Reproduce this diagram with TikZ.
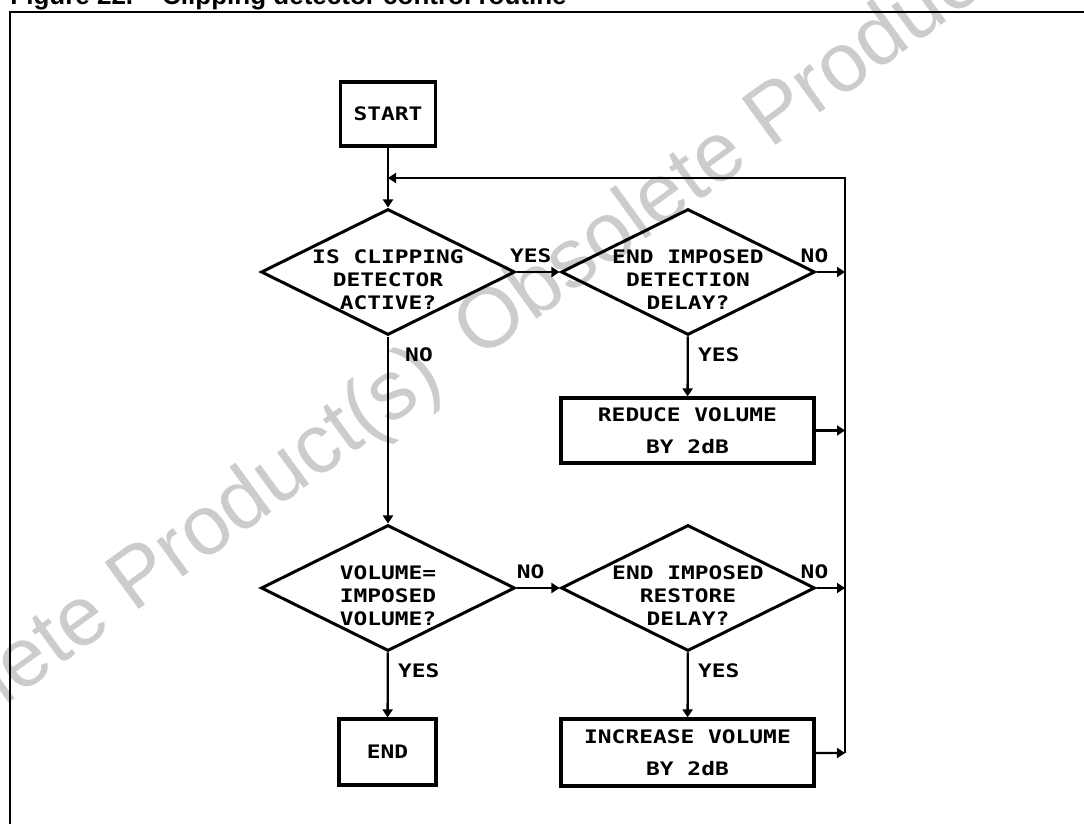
\documentclass[tikz,border=0pt]{standalone}
\usepackage{fontspec}
\setmainfont{Liberation Sans}
\newfontfamily\plotfont[FakeStretch=1.23]{DejaVu Sans Mono}
\usepackage{tikz}
\usetikzlibrary{shapes.geometric, arrows.meta, positioning}
\definecolor{wmgray}{gray}{0.80}

\tikzset{
	flowbox/.style={draw, line width=1.6pt, inner sep=0pt, align=center,
		font=\plotfont\bfseries\fontsize{9.3}{16}\selectfont},
	decision/.style={diamond, draw, line width=1.5pt, inner sep=0pt,
		minimum width=127pt, minimum height=63pt},
	dtext/.style={inner sep=0pt, align=center, font=\plotfont\bfseries\fontsize{9.3}{11.5}\selectfont},
	lbl/.style={inner sep=0pt, text height=6.8pt, text depth=0pt,
		font=\plotfont\bfseries\fontsize{9.3}{11}\selectfont},
	downlbl/.style={lbl, anchor=north, pos=0, xshift=15.5pt, yshift=-5pt},
	flow/.style={line width=1.15pt, -{Triangle[length=4pt, width=5pt]}},
	watermark/.style={inner sep=0pt, rotate=36, text=wmgray, font=\fontsize{42}{42}\selectfont}
}

\begin{document}
\begin{tikzpicture}[x=0.5pt, y=-0.5pt]
	\def\railx{845}
	\useasboundingbox (0,0) rectangle (1084,824);
	\clip (0,0) rectangle (1084,824);

	% watermark behind the chart
	\node[watermark, anchor=base east] (wm lo) at (447,385) {Obsolete Product(s)};
	\node[watermark, anchor=base west] (wm hi) at (479,361) {Obsolete Product(s)};

	% caption (cut by the page top) and frame
	\node[anchor=base west, inner sep=0pt, font=\bfseries\fontsize{13}{13}\selectfont] (caption)
		at (10,5) {Figure 22.\hspace{14.5pt}Clipping detector control routine};
	\draw[line width=1pt] (1100,12) -- (10,12) -- (10,840);

	% left column
	\node[flowbox, minimum width=47.5pt, minimum height=32pt] (start) at (388,114) {START};
	\node[decision] (clip) at (388,272) {};
	\node[dtext] (clip txt) at ([yshift=-4pt]clip.center) {IS CLIPPING\\DETECTOR\\ACTIVE?};
	\node[decision] (volchk) at (388,588) {};
	\node[dtext] (volchk txt) at ([yshift=-4pt]volchk.center) {VOLUME=\\IMPOSED\\VOLUME?};
	\node[flowbox, minimum width=48.5pt, minimum height=33pt] (stop) at (387.5,752) {END};

	% right column
	\node[decision] (detdelay) at (688,272) {};
	\node[dtext] (detdelay txt) at ([yshift=-4pt]detdelay.center) {END IMPOSED\\DETECTION\\DELAY?};
	\node[flowbox, minimum width=126.5pt, minimum height=32.5pt] (reduce) at (687.5,430.5) {REDUCE VOLUME\\BY 2dB};
	\node[decision] (resdelay) at (688,588) {};
	\node[dtext] (resdelay txt) at ([yshift=-4pt]resdelay.center) {END IMPOSED\\RESTORE\\DELAY?};
	\node[flowbox, minimum width=126.5pt, minimum height=33.5pt] (increase) at (687.5,752.5) {INCREASE VOLUME\\BY 2dB};

	% return rail
	\coordinate (rail top) at (\railx,178);
	\coordinate (rail bot) at (\railx,753);
	\coordinate (join) at (start.south |- rail top);

	\draw[flow] (start) -- (clip);
	\draw[flow] (clip) -- node[lbl, above=4pt, pos=.33] (yes clip) {YES} (detdelay);
	\draw[flow] (clip) -- node[downlbl] (no clip) {NO} (volchk);
	\draw[flow] (detdelay) -- node[lbl, above=4pt, pos=0, xshift=-1pt] (no det) {NO} (detdelay.east -| rail top);
	\draw[flow] (detdelay) -- node[downlbl] (yes det) {YES} (reduce);
	\draw[flow] (reduce) -- (reduce.east -| rail top);
	\draw[flow] (volchk) -- node[lbl, above=4pt, pos=.33] (no vol) {NO} (resdelay);
	\draw[flow] (volchk) -- node[downlbl] (yes vol) {YES} (stop);
	\draw[flow] (resdelay) -- node[lbl, above=4pt, pos=0, xshift=-1pt] (no res) {NO} (resdelay.east -| rail top);
	\draw[flow] (resdelay) -- node[downlbl] (yes res) {YES} (increase);
	\draw[flow] (increase) -- (rail bot);
	\draw[flow, line width=1pt] (rail bot) -- (rail top) -- (join);

\end{tikzpicture}
\end{document}
